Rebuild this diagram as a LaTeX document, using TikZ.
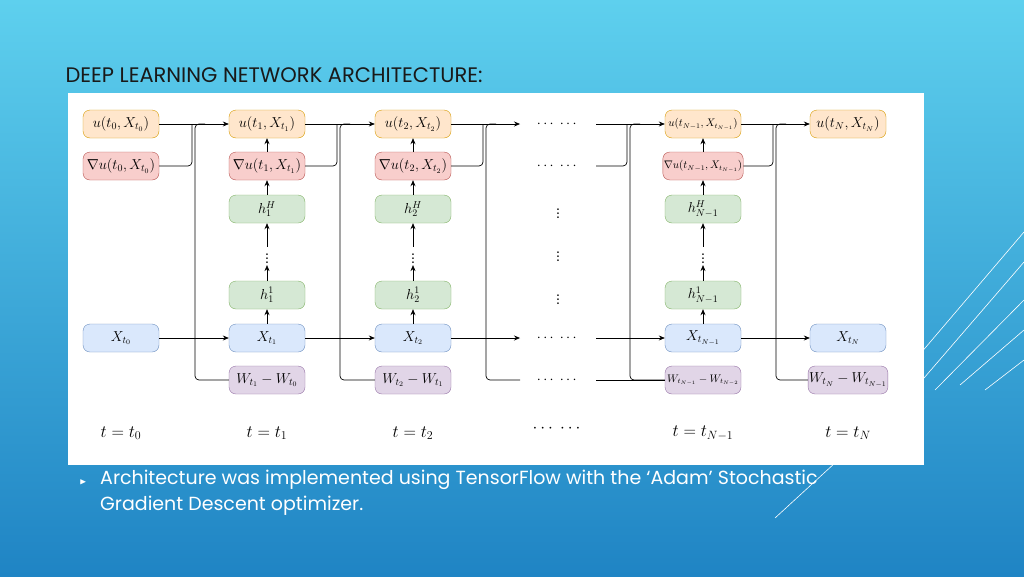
\documentclass[tikz,border=0pt]{standalone}
\usepackage{amsmath,amssymb}
\usepackage{fontspec}
\setmainfont{Poppins}
\usetikzlibrary{arrows.meta}
\definecolor{bgtop}{HTML}{5ED0EE}
\definecolor{bgbot}{HTML}{1F84C4}
\begin{document}
\begin{tikzpicture}[x=1pt,y=-1pt,
 box/.style={draw,rounded corners=7pt,minimum width=76pt,minimum height=28pt,inner sep=1pt,font=\fontsize{14}{16}\selectfont},
 sm/.style={font=\fontsize{10.5}{12}\selectfont},
 uu/.style={box,fill={rgb,255:red,255;green,230;blue,204},draw={rgb,255:red,215;green,155;blue,0}},
 gg/.style={box,fill={rgb,255:red,248;green,206;blue,204},draw={rgb,255:red,184;green,84;blue,80}},
 hh/.style={box,fill={rgb,255:red,213;green,232;blue,212},draw={rgb,255:red,130;green,179;blue,102}},
 xx/.style={box,fill={rgb,255:red,218;green,232;blue,252},draw={rgb,255:red,108;green,142;blue,191}},
 ww/.style={box,fill={rgb,255:red,225;green,213;blue,231},draw={rgb,255:red,150;green,115;blue,166}},
 dt/.style={font=\fontsize{14}{16}\selectfont,inner sep=1pt},
 ar/.style={-{Stealth[length=6pt,width=5pt]},line width=0.7pt},
 ln/.style={line width=0.7pt,rounded corners=4pt},
 lab/.style={font=\fontsize{17}{20}\selectfont}]
\useasboundingbox (0,0) rectangle (1024,576);
\shade[top color=bgtop,bottom color=bgbot] (0,0) rectangle (1024,576);
\draw[white,line width=0.6pt] (1024,232)--(885,395) (1024,262)--(905,400) (1024,300)--(935,390) (1024,330)--(960,385) (1024,360)--(985,390) (775,518)--(860,440);
\node[anchor=west,font=\fontsize{21}{24}\selectfont,text=black!90] (title) at (62,75) {DEEP LEARNING NETWORK ARCHITECTURE:};
\fill[white] (68,93) rectangle (924,465);
\node[anchor=west,text=white,font=\small] (bul) at (76,482) {$\blacktriangleright$};
\node[anchor=north west,text=white,font=\fontsize{19}{26}\selectfont,align=left,inner sep=0] (txt) at (100,470) {Architecture was implemented using TensorFlow with the ‘Adam’ Stochastic\\Gradient Descent optimizer.};
% column 0
\node[uu] (u0) at (121,124) {$u(t_0,X_{t_0})$};
\node[gg] (g0) at (121,166) {$\nabla u(t_0,X_{t_0})$};
\node[xx] (x0) at (121,338) {$X_{t_0}$};
% columns 1,2
\foreach \i/\c in {1/267,2/413}{
 \node[uu] (u\i) at (\c,124) {$u(t_\i,X_{t_\i})$};
 \node[gg] (g\i) at (\c,166) {$\nabla u(t_\i,X_{t_\i})$};
 \node[hh] (hH\i) at (\c,209) {$h_\i^H$};
 \node[dt] (v\i) at (\c,256) {$\vdots$};
 \node[hh] (hA\i) at (\c,295) {$h_\i^1$};
 \node[xx] (x\i) at (\c,338) {$X_{t_\i}$};
}
\node[ww] (w1) at (267,380) {$W_{t_1}-W_{t_0}$};
\node[ww] (w2) at (413,380) {$W_{t_2}-W_{t_1}$};
% dots column
\node[dt] (du) at (558,124) {$\cdots\ \cdots$};
\node[dt] (dg) at (558,166) {$\cdots\ \cdots$};
\node[dt] (d3) at (558,211) {$\vdots$};
\node[dt] (d4) at (558,254) {$\vdots$};
\node[dt] (d5) at (558,297) {$\vdots$};
\node[dt] (dx) at (558,338) {$\cdots\ \cdots$};
\node[dt] (dw) at (558,380) {$\cdots\ \cdots$};
% column N-1
\node[uu,sm] (u3) at (703,124) {$u(t_{N-1},X_{t_{N-1}})$};
\node[gg,sm] (g3) at (703,166) {$\nabla u(t_{N-1},X_{t_{N-1}})$};
\node[hh] (hH3) at (703,209) {$h_{N-1}^H$};
\node[dt] (v3) at (703,256) {$\vdots$};
\node[hh] (hA3) at (703,295) {$h_{N-1}^1$};
\node[xx] (x3) at (703,338) {$X_{t_{N-1}}$};
\node[ww,sm] (w3) at (703,380) {$W_{t_{N-1}}-W_{t_{N-2}}$};
% column N
\node[uu] (u4) at (848,124) {$u(t_N,X_{t_N})$};
\node[xx] (x4) at (848,338) {$X_{t_N}$};
\node[ww] (w4) at (848,380) {$W_{t_N}-W_{t_{N-1}}$};
% time labels
\node[lab] (t0) at (121,433) {$t=t_0$};
\node[lab] (t1) at (267,433) {$t=t_1$};
\node[lab] (t2) at (413,433) {$t=t_2$};
\node[lab] (t3) at (558,429) {$\cdots\ \cdots$};
\node[lab] (t4) at (703,433) {$t=t_{N-1}$};
\node[lab] (t5) at (848,433) {$t=t_N$};
% vertical arrows
\foreach \i in {1,2,3}{
 \draw[ar] (g\i) -- (u\i);
 \draw[ar] (hH\i) -- (g\i);
 \draw[ar] (v\i.north) -- (hH\i);
 \draw[ar] (hA\i) -- (v\i.south);
 \draw[ar] (x\i) -- (hA\i);
}
% horizontal connectors
\coordinate (e2u) at (520,124); \coordinate (e2x) at (520,338); \coordinate (e2w) at (520,380);
\coordinate (s3u) at (596,124); \coordinate (s3g) at (596,166); \coordinate (s3x) at (596,338); \coordinate (s3w) at (596,380);
\foreach \a/\b/\c/\d/\wx/\e/\jx in {u0/g0/x0/u1/w1/x1/195, u1/g1/x1/u2/w2/x2/340, u3/g3/x3/u4/w4/x4/776}{
 \draw[ar] (\a.east) -- (\d.west);
 \draw[ar] (\c.east) -- (\e.west);
 \draw[ln] (\b.east) -| (\jx-3,124);
 \draw[ln] (\wx.west) -| (\jx,124) -- (\jx+10,124);
}
\draw[ar] (u2.east) -- (e2u);
\draw[ar] (x2.east) -- (e2x);
\draw[ln] (g2.east) -| (483,124);
\draw[ln] (e2w) -| (486,124) -- (496,124);
\draw[ar] (s3u) -- (u3.west);
\draw[ar] (s3x) -- (x3.west);
\draw[ln] (s3g) -| (627,124);
\draw[ln] (w3.west) -| (630,124) -- (640,124);
\draw[ln] (s3w) -- (w3.west);
\end{tikzpicture}
\end{document}
